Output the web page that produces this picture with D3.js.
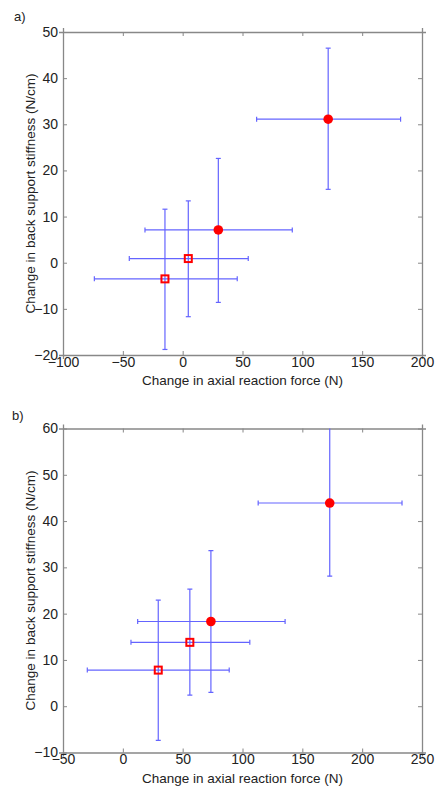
<html>
  <meta charset="utf-8" />
  <script src="https://d3js.org/d3.v7.min.js"></script>
  <style>
    body { margin: 0; background: #fff; }
    text { font-family: "Liberation Sans", Arial, sans-serif; fill: #222; }
  </style>
  <body>
    <svg width="435" height="787" id="fig"></svg>
    <script>
      // panel a)
      const aX = [121.6, 29.8, 4.7, -14.8];
      const aY = [31.1, 7.1, 0.9, -3.5];
      const aXlo = [61.8, -31.5, -44.6, -73.8];
      const aXhi = [182.1, 91.6, 54.8, 45.6];
      const aYlo = [15.9, -8.6, -11.7, -18.8];
      const aYhi = [46.5, 22.6, 13.4, 11.6];
      const aXticks = [-100, -50, 0, 50, 100, 150, 200];
      const aYticks = [-20, -10, 0, 10, 20, 30, 40, 50];

      // panel b)
      const bX = [172.9, 73.6, 56.0, 29.6];
      const bY = [43.9, 18.3, 13.8, 7.8];
      const bXlo = [113.1, 12.4, 6.8, -29.7];
      const bXhi = [233.3, 135.6, 106.1, 88.9];
      const bYlo = [28.1, 3.0, 2.4, -7.4];
      const bYhi = [60.3, 33.6, 25.3, 22.9];
      const bXticks = [-50, 0, 50, 100, 150, 200, 250];
      const bYticks = [-10, 0, 10, 20, 30, 40, 50, 60];

      const markers = ["circle", "circle", "square", "square"];

      const xLabel = "Change in axial reaction force (N)";
      const yLabel = "Change in back support stiffness (N/cm)";

      const svg = d3.select("#fig");
      const axisColor = "#888";
      const barColor = "#6464ff";

      function panel(opt, id) {
        const left = 63, width = 359;
        const top = opt.top, height = opt.height;
        const x = d3.scaleLinear().domain(d3.extent(opt.xt)).range([left, left + width]);
        const y = d3.scaleLinear().domain(d3.extent(opt.yt)).range([top + height, top]);

        const g = svg.append("g");

        g.append("clipPath").attr("id", "clip" + id)
          .append("rect").attr("x", left).attr("y", top)
          .attr("width", width).attr("height", height);

        // box + inward ticks on all four sides
        const tl = 4;
        const ax = [
          d3.axisBottom(x).tickValues(opt.xt).tickSize(tl),
          d3.axisTop(x).tickValues(opt.xt).tickSize(tl).tickFormat(""),
          d3.axisLeft(y).tickValues(opt.yt).tickSize(tl),
          d3.axisRight(y).tickValues(opt.yt).tickSize(tl).tickFormat("")
        ];
        const pos = [
          `translate(0,${top + height})`, `translate(0,${top})`,
          `translate(${left},0)`, `translate(${left + width},0)`
        ];
        ax.forEach((a, i) => {
          const ag = g.append("g").attr("transform", pos[i]).call(a);
          ag.select(".domain").attr("stroke", axisColor).attr("stroke-width", 1.3);
          ag.selectAll(".tick line").attr("stroke", axisColor)
            .attr(i < 2 ? "y2" : "x2", i === 0 || i === 3 ? -tl : tl);
          ag.selectAll(".tick text").attr("fill", "#222")
            .style("font-size", "14px").style("font-family", "Liberation Sans, Arial, sans-serif");
          if (i === 0) ag.selectAll(".tick text").attr("y", 2).attr("dy", "0.71em");
          if (i === 2) ag.selectAll(".tick text").attr("x", -5);
        });

        const data = opt.xs.map((v, i) => ({
          x: v, y: opt.ys[i], xlo: opt.xlo[i], xhi: opt.xhi[i],
          ylo: opt.ylo[i], yhi: opt.yhi[i], m: markers[i]
        }));

        const eb = g.append("g").attr("clip-path", `url(#clip${id})`)
          .attr("stroke", barColor).attr("stroke-width", 1.2).attr("fill", "none");
        const cap = 2.5;
        data.forEach((d) => {
          eb.append("line").attr("x1", x(d.xlo)).attr("x2", x(d.xhi))
            .attr("y1", y(d.y)).attr("y2", y(d.y));
          eb.append("line").attr("x1", x(d.x)).attr("x2", x(d.x))
            .attr("y1", y(d.ylo)).attr("y2", y(d.yhi));
          [d.xlo, d.xhi].forEach((v) => eb.append("line")
            .attr("x1", x(v)).attr("x2", x(v))
            .attr("y1", y(d.y) - cap).attr("y2", y(d.y) + cap));
          [d.ylo, d.yhi].forEach((v) => eb.append("line")
            .attr("x1", x(d.x) - cap).attr("x2", x(d.x) + cap)
            .attr("y1", y(v)).attr("y2", y(v)));
        });

        data.forEach((d) => {
          if (d.m === "circle") {
            g.append("circle").attr("cx", x(d.x)).attr("cy", y(d.y)).attr("r", 4.8)
              .attr("fill", "#ff0000");
          } else {
            g.append("rect").attr("x", x(d.x) - 3.5).attr("y", y(d.y) - 3.5)
              .attr("width", 7).attr("height", 7)
              .attr("fill", "none").attr("stroke", "#ff0000").attr("stroke-width", 2);
          }
        });

        g.append("text").attr("x", left + width / 2).attr("y", top + height + 30)
          .attr("text-anchor", "middle").style("font-size", "13.5px").text(xLabel);
        g.append("text")
          .attr("transform", `translate(35,${top + height / 2}) rotate(-90)`)
          .attr("text-anchor", "middle").style("font-size", "13.5px").text(yLabel);
        g.append("text").attr("x", opt.lx).attr("y", opt.ly)
          .style("font-size", "13px").text(opt.label);
      }

      panel({ top: 32, height: 323, xt: aXticks, yt: aYticks, xs: aX, ys: aY,
        xlo: aXlo, xhi: aXhi, ylo: aYlo, yhi: aYhi, label: "a)", lx: 14, ly: 21 }, "a");
      panel({ top: 428.5, height: 324, xt: bXticks, yt: bYticks, xs: bX, ys: bY,
        xlo: bXlo, xhi: bXhi, ylo: bYlo, yhi: bYhi, label: "b)", lx: 12, ly: 420 }, "b");
    </script>
  </body>
</html>
